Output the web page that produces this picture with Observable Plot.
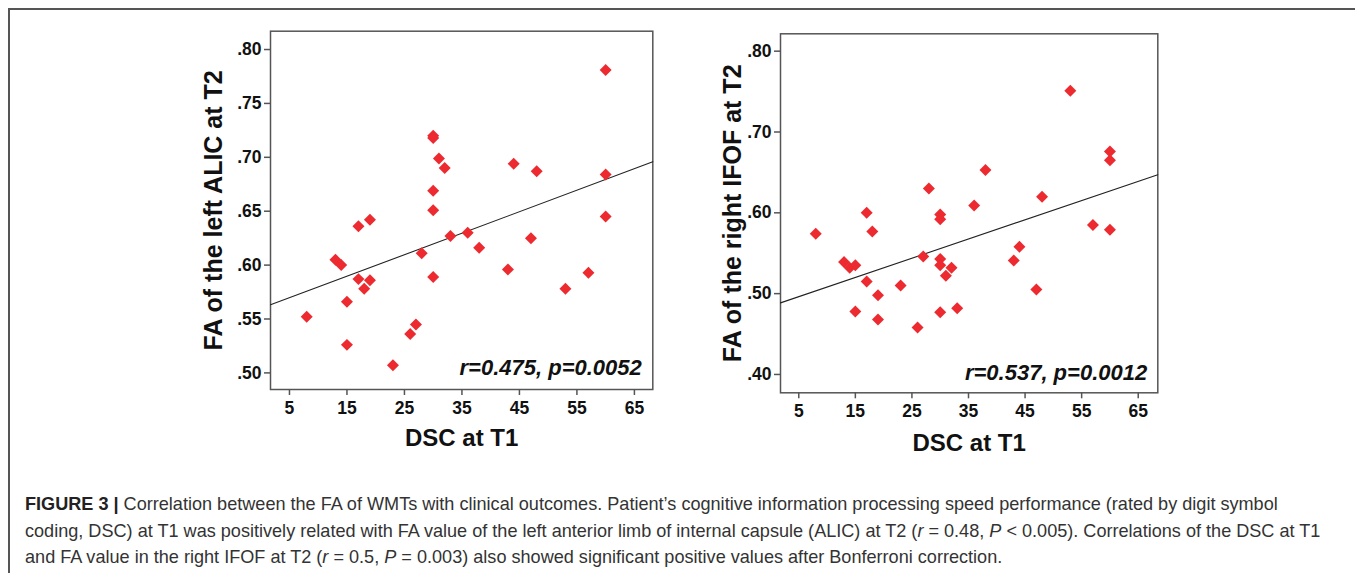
<!DOCTYPE html>
<html>
<head>
<meta charset="utf-8">
<script src="https://cdn.jsdelivr.net/npm/d3@7"></script>
<script src="https://cdn.jsdelivr.net/npm/@observablehq/plot@0.6"></script>
<style>
  html, body { margin: 0; padding: 0; background: #fff; }
  #fig { position: relative; width: 1355px; height: 573px; overflow: hidden; background: #fff; }
  #border { position: absolute; left: 8px; top: 8px; width: 1400px; height: 600px; z-index: 5;
            border-top: 2px solid #555; border-left: 2px solid #555; pointer-events: none; }
  .panel { position: absolute; top: 0; }
  #caption { position: absolute; left: 25px; top: 491px; width: 1320px;
             font-family: "Liberation Sans", Arial, sans-serif; font-size: 18.1px;
             line-height: 26.5px; color: #333; white-space: nowrap; }
  #caption b { color: #222; }
</style>
</head>
<body>
<div id="fig">
  <div id="left" class="panel" style="left:0px"></div>
  <div id="right" class="panel" style="left:680px"></div>
  <div id="caption">
    <b>FIGURE 3 |</b> Correlation between the FA of WMTs with clinical outcomes. Patient’s cognitive information processing speed performance (rated by digit symbol<br>
    coding, DSC) at T1 was positively related with FA value of the left anterior limb of internal capsule (ALIC) at T2 (<i>r</i> = 0.48, <i>P</i> &lt; 0.005). Correlations of the DSC at T1<br>
    and FA value in the right IFOF at T2 (<i>r</i> = 0.5, <i>P</i> = 0.003) also showed significant positive values after Bonferroni correction.
  </div>
  <div id="border"></div>
</div>
<script>
// ---- data ----
const dscLeft = [60,30,30,31,32,44,48,60,30,30,60,17,19,33,36,38,47,28,13,14,30,43,57,17,19,18,53,15,8,27,26,15,23];
const faLeft  = [0.781,0.720,0.718,0.699,0.690,0.694,0.687,0.684,0.669,0.651,0.645,0.636,0.642,0.627,0.630,0.616,0.625,0.611,0.605,0.600,0.589,0.596,0.593,0.587,0.586,0.578,0.578,0.566,0.552,0.545,0.536,0.526,0.507];
const dscRight = [53,60,60,38,28,36,48,17,30,30,8,18,57,60,44,43,27,30,30,32,31,13,14,15,17,23,19,47,15,30,33,19,26];
const faRight  = [0.751,0.676,0.665,0.653,0.630,0.609,0.620,0.600,0.598,0.592,0.574,0.577,0.585,0.579,0.558,0.541,0.546,0.543,0.535,0.532,0.522,0.539,0.532,0.535,0.515,0.510,0.498,0.505,0.478,0.477,0.482,0.468,0.458];
const xTicks = [5,15,25,35,45,55,65];
const yTicksLeft = [0.50,0.55,0.60,0.65,0.70,0.75,0.80];
const yTicksRight = [0.40,0.50,0.60,0.70,0.80];
const labelsLeft = {x: "DSC at T1", y: "FA of the left ALIC at T2", stat: "r=0.475, p=0.0052"};
const labelsRight = {x: "DSC at T1", y: "FA of the right IFOF at T2", stat: "r=0.537, p=0.0012"};

const fmt = v => d3.format(".2f")(v).replace(/^0/, "");

function ols(xs, ys) {
  const mx = d3.mean(xs), my = d3.mean(ys);
  let sxy = 0, sxx = 0;
  xs.forEach((x, i) => { sxy += (x - mx) * (ys[i] - my); sxx += (x - mx) ** 2; });
  const b = sxy / sxx;
  return {a: my - b * mx, b};
}

function panel(opt) {
  const data = opt.xs.map((x, i) => ({x, y: opt.ys[i]}));
  const {a, b} = ols(opt.xs, opt.ys);
  const fit = opt.xDomain.map(x => ({x, y: a + b * x}));
  return Plot.plot({
    width: opt.width, height: opt.height,
    marginLeft: opt.ml, marginRight: opt.mr, marginTop: opt.mt, marginBottom: opt.mb,
    style: {fontFamily: "'Liberation Sans', Arial, sans-serif", background: "transparent", color: "#111"},
    x: {domain: opt.xDomain},
    y: {domain: opt.yDomain},
    marks: [
      Plot.axisX(xTicks, {tickSize: 6, tickPadding: 6, fontSize: 17.5, fontWeight: "bold", stroke: "#555", strokeWidth: 1.5, label: null, fill: "#111"}),
      Plot.axisY(opt.yTicks, {tickSize: 6, tickPadding: 3, fontSize: 17.5, fontWeight: "bold", stroke: "#555", strokeWidth: 1.5, label: null, tickFormat: fmt, fill: "#111"}),
      Plot.frame({stroke: "#555", strokeWidth: 1.5}),
      Plot.line(fit, {x: "x", y: "y", stroke: "#222", strokeWidth: 1.1}),
      Plot.dot(data, {x: "x", y: "y", symbol: "diamond2", r: 5.4, fill: "#ec2a2f", stroke: "none"}),
      Plot.text([opt.labels.stat], {frameAnchor: "bottom-right", dx: opt.statDx, dy: opt.statDy, lineAnchor: "bottom",
        fontSize: 22, fontWeight: "bold", fontStyle: "italic", fill: "#111", textAnchor: "end"}),
      Plot.text([opt.labels.y], {frameAnchor: "left", dx: opt.yLabDx, rotate: -90, fontSize: 25, fontWeight: "bold", fill: "#111", lineAnchor: "middle", textAnchor: "middle"}),
      Plot.text([opt.labels.x], {frameAnchor: "bottom", dy: opt.xLabDy, fontSize: 24, fontWeight: "bold", fill: "#111", lineAnchor: "middle", textAnchor: "middle"})
    ]
  });
}

document.getElementById("left").append(panel({
  xs: dscLeft, ys: faLeft, labels: labelsLeft, yTicks: yTicksLeft,
  width: 670, height: 470, ml: 270, mr: 17.7, mt: 30.7, mb: 81,
  xDomain: [1.7, 68.2], yDomain: [0.4846, 0.817],
  statDx: -11, statDy: -15, yLabDx: -57, xLabDy: 49
}));
document.getElementById("right").append(panel({
  xs: dscRight, ys: faRight, labels: labelsRight, yTicks: yTicksRight,
  width: 500, height: 470, ml: 100, mr: 22.7, mt: 33.3, mb: 77.7,
  xDomain: [1.77, 68.46], yDomain: [0.3773, 0.8215],
  statDx: -10.6, statDy: -13, yLabDx: -48, xLabDy: 51
}));
</script>
</body>
</html>
